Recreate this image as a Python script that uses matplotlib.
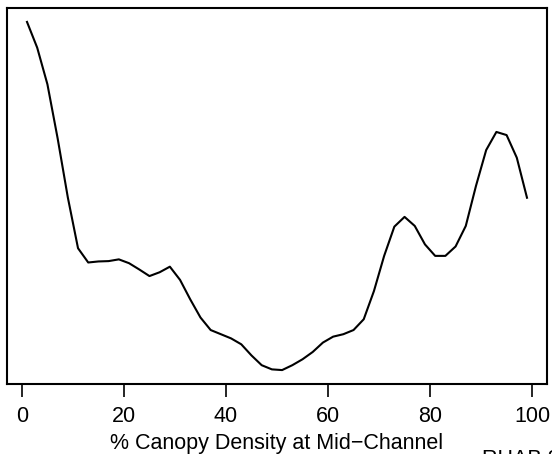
import matplotlib.pyplot as plt
import numpy as np

plt.rcParams['font.family'] = ['Liberation Sans', 'DejaVu Sans']

# Canopy density (%) at mid-channel and relative density estimate
canopy = np.arange(1, 100, 2)
density = [100.0, 92.6, 82.1, 66.6, 49.6, 35.0, 30.9, 31.2, 31.3, 31.8,
           30.7, 28.9, 27.0, 28.1, 29.7, 25.9, 20.3, 15.1, 11.5, 10.3,
           9.1, 7.4, 4.2, 1.4, 0.2, 0.0, 1.4, 3.1, 5.2, 7.9,
           9.6, 10.3, 11.5, 14.6, 22.7, 32.8, 41.2, 44.0, 41.4, 36.1,
           32.8, 32.8, 35.5, 41.4, 52.9, 63.2, 68.4, 67.5, 61.0, 49.5]
x_ticks = [0, 20, 40, 60, 80, 100]

W, H = 552, 454
fig = plt.figure(figsize=(W / 100, H / 100), dpi=100)
ax = fig.add_axes([7 / W, (H - 384) / H, 540 / W, 376 / H])

ax.plot(canopy, density, color='black', linewidth=1.5)

# R-style 4% padding on both axes
xr = canopy[-1] - canopy[0]
ax.set_xlim(canopy[0] - 0.04 * xr, canopy[-1] + 0.04 * xr)
yr = max(density) - min(density)
ax.set_ylim(min(density) - 0.04 * yr, max(density) + 0.04 * yr)

ax.set_xticks(x_ticks)
ax.set_yticks([])
ax.tick_params(axis='x', length=9.5, width=1.2, pad=6, labelsize=15.5)
for s in ax.spines.values():
    s.set_linewidth(1.5)

fig.text(277 / W, (H - 449) / H, '% Canopy Density at Mid\u2212Channel',
         ha='center', va='baseline', fontsize=15.5)
fig.text(482 / W, (H - 449) / H, 'RHAB 2', ha='left', va='top', fontsize=15.5)

fig.savefig('out.png', dpi=100)
